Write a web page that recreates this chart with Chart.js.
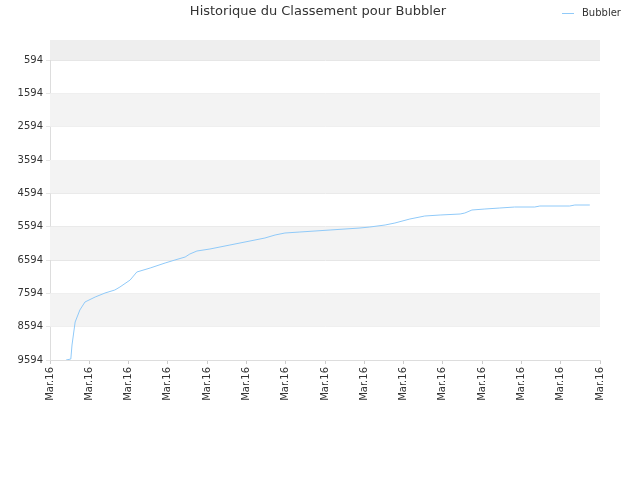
<!DOCTYPE html>
<html><head><meta charset="utf-8">
<script src="https://cdn.jsdelivr.net/npm/chart.js@4"></script>
<style>html,body{margin:0;background:#fff}#w{width:640px;height:480px}</style>
</head><body><div id="w"><canvas id="c"></canvas></div>
<script>
const xTickLabels = ["Mar.16","Mar.16","Mar.16","Mar.16","Mar.16","Mar.16","Mar.16","Mar.16","Mar.16","Mar.16","Mar.16","Mar.16","Mar.16","Mar.16","Mar.16"];
const yTicks = [594,1594,2594,3594,4594,5594,6594,7594,8594,9594];
const xPos = [0.41,0.53,0.56,0.64,0.76,0.89,1.15,1.40,1.65,1.78,2.04,2.21,2.55,2.93,3.18,3.44,3.56,3.74,4.07,4.58,5.09,5.47,5.73,5.98,6.36,7.13,7.89,8.14,8.53,8.78,9.16,9.54,9.93,10.44,10.56,10.74,11.07,11.45,11.83,12.34,12.47,13.23,13.36,13.74];
const ranks = [9594,9564,9144,8454,8094,7854,7704,7584,7494,7404,7194,6954,6834,6684,6594,6504,6414,6324,6264,6144,6024,5934,5844,5784,5754,5694,5634,5604,5544,5484,5364,5274,5244,5214,5184,5094,5064,5034,5004,5004,4974,4974,4944,4944];
const seriesName = "Bubbler";
const titleText = "Historique du Classement pour Bubbler";
const bands = {id:'bands',beforeDatasetsDraw(ch){
  const {ctx,chartArea:a,scales:{y}}=ch;ctx.save();
  ctx.fillStyle='#eeeeee';const t=y.getPixelForValue(594);ctx.fillRect(a.left,a.top,a.right-a.left,t-a.top);
  ctx.fillStyle='#f3f3f3';
  for(let i=1;i<yTicks.length-1;i+=2){const p1=y.getPixelForValue(yTicks[i]),p2=y.getPixelForValue(yTicks[i+1]);ctx.fillRect(a.left,p1,a.right-a.left,p2-p1);}
  ctx.restore();},
 afterDraw(ch){const ctx=ch.ctx;ctx.save();
  ctx.fillStyle='#333';ctx.font='13px "DejaVu Sans"';ctx.textAlign='center';ctx.textBaseline='middle';
  ctx.fillText(titleText,318,12);
  ctx.font='10px "DejaVu Sans"';ctx.textAlign='left';ctx.fillText(seriesName,582,13);
  ctx.strokeStyle='#90caf9';ctx.lineWidth=1;ctx.beginPath();ctx.moveTo(562,13.5);ctx.lineTo(574,13.5);ctx.stroke();
  ctx.restore();}};
new Chart(document.getElementById('c'),{type:'line',
 data:{datasets:[{label:seriesName,data:xPos.map((x,i)=>({x,y:ranks[i]})),borderColor:'#90caf9',backgroundColor:'#90caf9',borderWidth:1,pointRadius:0,tension:0}]},
 options:{responsive:true,maintainAspectRatio:false,animation:false,
  layout:{padding:{left:0,right:40,top:40,bottom:0}},
  plugins:{title:{display:false},legend:{display:false},tooltip:{enabled:false}},
  scales:{
   x:{type:'linear',min:0,max:14,afterBuildTicks(s){s.ticks=xTickLabels.map((_,i)=>({value:i}));},
      ticks:{callback:(v,i)=>xTickLabels[i],maxRotation:90,minRotation:90,color:'#333',font:{family:'DejaVu Sans',size:10},autoSkip:false},
      grid:{display:true,drawOnChartArea:false,color:'#ccc',tickLength:4},border:{color:'#ddd'},afterFit(s){s.height=120;}},
   y:{reverse:true,min:-6,max:9594,afterBuildTicks(s){s.ticks=yTicks.map(v=>({value:v}));},
      ticks:{callback:v=>String(v),color:'#333',font:{family:'DejaVu Sans',size:10}},grid:{color:'#e6e6e6',tickLength:4},border:{color:'#ddd'},afterFit(s){s.width=50;}}
  }},plugins:[bands]});
</script></body></html>
